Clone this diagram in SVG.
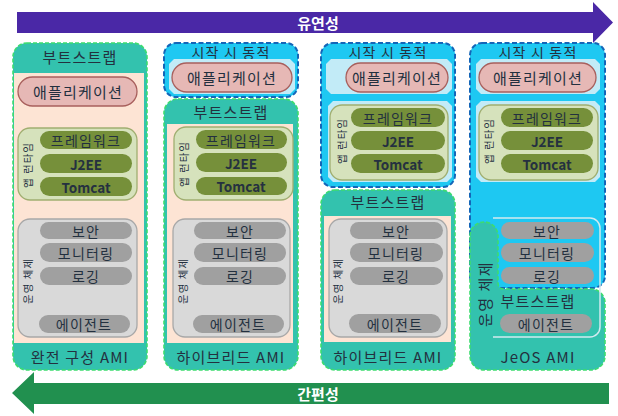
<svg xmlns="http://www.w3.org/2000/svg" width="618" height="416" viewBox="0 0 618 416">
<style>
text{font-family:"Noto Sans CJK KR","Noto Sans",sans-serif;text-anchor:middle;dominant-baseline:central;fill:#23303f}
.t{font-size:15px;letter-spacing:1.2px}
.s{font-size:14px;letter-spacing:1.2px}
.b{font-size:13.5px;font-weight:bold;fill:#253040}
.v{font-size:10.5px;letter-spacing:1px}
.v2{font-size:15px;letter-spacing:1.5px}
.w{font-size:15px;font-weight:bold;fill:#fff}
.outer{fill:#33c2ae;stroke:#3ddc6f;stroke-width:1.6;stroke-dasharray:4 2}
.dyn{fill:#1ec8f2;stroke:#1466b8;stroke-width:2;stroke-dasharray:5 2.5}
.peach{fill:#fde4d4}
.lc{fill:#c2ebf7}
.app{fill:#e6b8b5;stroke:#a85f5c;stroke-width:1.3}
.rt{fill:#d6e2bc;stroke:#a0ae70;stroke-width:1.3}
.ol{fill:#76903a}
.os{fill:#d9d9d9;stroke:#a8a8a8;stroke-width:1.3}
.gp{fill:#a0a0a0}
</style>
<g id="flex-arrow">
<polygon points="17,12 593,12 593,2 613,22.5 593,43 593,33 17,33" fill="#4a28a6"/>
<text class="w" x="318" y="22.5">유연성</text>
</g>
<g id="simple-arrow">
<polygon points="609,383 34,383 34,372 12,393 34,414 34,404 609,404" fill="#21904f"/>
<text class="w" x="318" y="393">간편성</text>
</g>
<g id="col1-full">
<rect class="outer" x="13" y="43" width="134" height="327" rx="14"/>
<rect class="peach" x="14" y="73" width="130" height="270"/>
<text class="t" x="80" y="56">부트스트랩</text>
<text class="t" x="80" y="356">완전 구성 AMI</text>
</g>
<g id="col1-app"><rect class="app" x="18" y="77" width="119" height="29" rx="14.5"/><text class="t" x="78" y="91.5">애플리케이션</text></g>
<g id="col1-runtime">
<rect class="rt" x="18" y="128" width="119" height="72" rx="12"/>
<text class="v" transform="rotate(-90 27 165)" x="27" y="165">앱 런타임</text>
<rect class="ol" x="40" y="131" width="92" height="18" rx="9"/><text class="s" x="86" y="140">프레임워크</text>
<rect class="ol" x="40" y="154" width="92" height="19" rx="9.5"/><text class="b" x="86" y="163.5">J2EE</text>
<rect class="ol" x="40" y="177" width="92" height="19" rx="9.5"/><text class="b" x="86" y="186.5">Tomcat</text>
</g>
<g id="col1-os">
<rect class="os" x="18" y="219" width="119" height="118" rx="12"/>
<text class="v" transform="rotate(-90 27 281)" x="27" y="281">운영 체제</text>
<rect class="gp" x="40" y="222" width="92" height="17" rx="8.5"/><text class="s" x="86" y="230.5">보안</text>
<rect class="gp" x="40" y="243" width="92" height="19" rx="9.5"/><text class="s" x="86" y="252.5">모니터링</text>
<rect class="gp" x="40" y="267" width="92" height="18" rx="9"/><text class="s" x="86" y="276">로깅</text>
<rect class="gp" x="39" y="315" width="91" height="18" rx="9"/><text class="s" x="84" y="324">에이전트</text>
</g>
<g id="col2-dynamic">
<rect class="dyn" x="164" y="43" width="134" height="54" rx="12"/>
<text class="s" x="231" y="52">시작 시 동적</text>
<polygon class="lc" points="174,59 290,59 295,64 295,89 290,94 174,94 169,89 169,64"/>
<rect class="app" x="172" y="63" width="120" height="29" rx="14.5"/><text class="t" x="232" y="77.5">애플리케이션</text>
</g>
<g id="col2-bootstrap">
<rect class="outer" x="164" y="99" width="134" height="271" rx="14"/>
<text class="t" x="231" y="111">부트스트랩</text>
<rect class="peach" x="167" y="124" width="126" height="219"/>
<text class="t" x="231" y="356">하이브리드 AMI</text>
</g>
<g id="col2-runtime">
<rect class="rt" x="174" y="127" width="119" height="73" rx="12"/>
<text class="v" transform="rotate(-90 183 164)" x="183" y="164">앱 런타임</text>
<rect class="ol" x="196" y="130" width="91" height="19" rx="9.5"/><text class="s" x="241" y="139.5">프레임워크</text>
<rect class="ol" x="196" y="153" width="91" height="19" rx="9.5"/><text class="b" x="241" y="162.5">J2EE</text>
<rect class="ol" x="196" y="177" width="91" height="18" rx="9"/><text class="b" x="241" y="186">Tomcat</text>
</g>
<g id="col2-os">
<rect class="os" x="173" y="219" width="117" height="118" rx="12"/>
<text class="v" transform="rotate(-90 182 281)" x="182" y="281">운영 체제</text>
<rect class="gp" x="194" y="222" width="92" height="17" rx="8.5"/><text class="s" x="240" y="230.5">보안</text>
<rect class="gp" x="194" y="243" width="92" height="19" rx="9.5"/><text class="s" x="240" y="252.5">모니터링</text>
<rect class="gp" x="194" y="267" width="92" height="18" rx="9"/><text class="s" x="240" y="276">로깅</text>
<rect class="gp" x="193" y="315" width="91" height="18" rx="9"/><text class="s" x="238" y="324">에이전트</text>
</g>
<g id="col3-dynamic">
<rect class="dyn" x="321" y="43" width="134" height="144" rx="12"/>
<text class="s" x="388" y="52">시작 시 동적</text>
<polygon class="lc" points="331,59 447,59 452,64 452,89 447,94 331,94 326,89 326,64"/>
<rect class="app" x="346" y="63" width="102" height="29" rx="14.5"/><text class="t" x="397" y="77.5">애플리케이션</text>
<polygon class="lc" points="333,101 447,101 452,106 452,177 447,182 333,182 328,177 328,106"/>
</g>
<g id="col3-runtime">
<rect class="rt" x="330" y="105" width="118" height="75" rx="12"/>
<text class="v" transform="rotate(-90 341 141)" x="341" y="141">앱 런타임</text>
<rect class="ol" x="351" y="108" width="94" height="19" rx="9.5"/><text class="s" x="398" y="117.5">프레임워크</text>
<rect class="ol" x="351" y="131" width="94" height="19" rx="9.5"/><text class="b" x="398" y="140.5">J2EE</text>
<rect class="ol" x="351" y="154" width="94" height="19" rx="9.5"/><text class="b" x="398" y="163.5">Tomcat</text>
</g>
<g id="col3-bootstrap">
<rect class="outer" x="321" y="190" width="134" height="180" rx="14"/>
<text class="t" x="388" y="201">부트스트랩</text>
<rect class="peach" x="324" y="216" width="127" height="126"/>
<text class="t" x="388" y="356">하이브리드 AMI</text>
</g>
<g id="col3-os">
<rect class="os" x="329" y="219" width="118" height="118" rx="12"/>
<text class="v" transform="rotate(-90 337 281)" x="337" y="281">운영 체제</text>
<rect class="gp" x="350" y="222" width="93" height="17" rx="8.5"/><text class="s" x="396" y="230.5">보안</text>
<rect class="gp" x="350" y="243" width="93" height="19" rx="9.5"/><text class="s" x="396" y="252.5">모니터링</text>
<rect class="gp" x="350" y="267" width="93" height="18" rx="9"/><text class="s" x="396" y="276">로깅</text>
<rect class="gp" x="349" y="314" width="92" height="19" rx="9.5"/><text class="s" x="395" y="323.5">에이전트</text>
</g>
<g id="col4-dynamic">
<rect class="dyn" x="470" y="43" width="135" height="245" rx="12"/>
<text class="s" x="538" y="52">시작 시 동적</text>
<polygon class="lc" points="481,59 595,59 600,64 600,89 595,94 481,94 476,89 476,64"/>
<rect class="app" x="479" y="63" width="117" height="29" rx="14.5"/><text class="t" x="538" y="77.5">애플리케이션</text>
<polygon class="lc" points="481,101 595,101 600,106 600,177 595,182 481,182 476,177 476,106"/>
</g>
<g id="col4-runtime">
<rect class="rt" x="479" y="105" width="119" height="75" rx="12"/>
<text class="v" transform="rotate(-90 488 141)" x="488" y="141">앱 런타임</text>
<rect class="ol" x="501" y="108" width="92" height="19" rx="9.5"/><text class="s" x="547" y="117.5">프레임워크</text>
<rect class="ol" x="501" y="131" width="92" height="19" rx="9.5"/><text class="b" x="547" y="140.5">J2EE</text>
<rect class="ol" x="501" y="154" width="92" height="19" rx="9.5"/><text class="b" x="547" y="163.5">Tomcat</text>
</g>
<g id="col4-bootstrap">
<path class="outer" d="M470,236 A14,14 0 0 1 498,236 L498,283 Q498,289 504,289 L591,289 A14,14 0 0 1 605,303 L605,356 A14,14 0 0 1 591,370 L484,370 A14,14 0 0 1 470,356 Z"/>
<text class="t" x="538" y="300">부트스트랩</text>
<text class="t" x="538" y="356">JeOS AMI</text>
</g>
<g id="col4-os">
<path d="M493,218 L590,218 A10,10 0 0 1 600,228 L600,327 A10,10 0 0 1 590,337 L493,337" fill="none" stroke="#d2eaf0" stroke-width="1.5"/>
<text class="v2" transform="rotate(-90 484 294)" x="484" y="294">운영 체제</text>
<rect class="gp" x="501" y="222" width="93" height="17" rx="8.5"/><text class="s" x="547" y="230.5">보안</text>
<rect class="gp" x="501" y="243" width="93" height="19" rx="9.5"/><text class="s" x="547" y="252.5">모니터링</text>
<rect class="gp" x="501" y="267" width="93" height="17" rx="8.5"/><text class="s" x="547" y="275.5">로깅</text>
<rect class="gp" x="500" y="314" width="92" height="19" rx="9.5"/><text class="s" x="546" y="323.5">에이전트</text>
</g>
</svg>
